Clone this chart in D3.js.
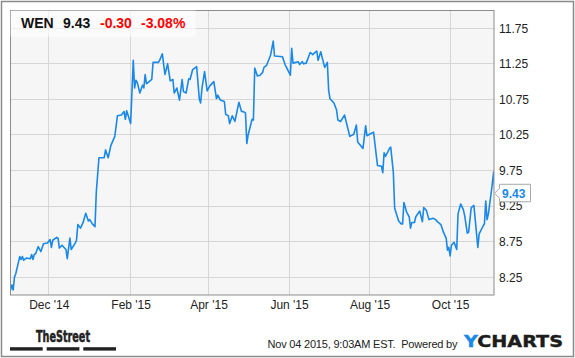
<!DOCTYPE html>
<html><head><meta charset="utf-8">
<script src="https://cdn.jsdelivr.net/npm/d3@7/dist/d3.min.js"></script>
<style>
html,body{margin:0;padding:0;background:#fff;}
svg{display:block;font-family:"Liberation Sans",Arial,sans-serif;}
</style></head>
<body>
<svg id="chart" width="575" height="358"></svg>
<script>
const dates = [
"2014-11-02","2014-11-03","2014-11-04","2014-11-05","2014-11-06","2014-11-09","2014-11-10","2014-11-11","2014-11-12","2014-11-14",
"2014-11-17","2014-11-18","2014-11-19","2014-11-20","2014-11-21","2014-11-23","2014-11-25","2014-11-27","2014-11-30","2014-12-02",
"2014-12-03","2014-12-04","2014-12-07","2014-12-08","2014-12-09","2014-12-11","2014-12-14","2014-12-15","2014-12-17","2014-12-18",
"2014-12-21","2014-12-22","2014-12-23","2014-12-25","2014-12-27","2014-12-29","2014-12-31","2015-01-01","2015-01-03","2015-01-05",
"2015-01-06","2015-01-08","2015-01-12","2015-01-13","2015-01-15","2015-01-17","2015-01-20","2015-01-22","2015-01-25","2015-01-27",
"2015-01-28","2015-01-29","2015-02-01","2015-02-03","2015-02-04","2015-02-05","2015-02-06","2015-02-08","2015-02-10","2015-02-11",
"2015-02-12","2015-02-13","2015-02-15","2015-02-17","2015-02-18","2015-02-22","2015-02-23","2015-02-25","2015-02-27","2015-03-01",
"2015-03-03","2015-03-05","2015-03-06","2015-03-08","2015-03-10","2015-03-12","2015-03-13","2015-03-15","2015-03-17","2015-03-18",
"2015-03-20","2015-03-23","2015-03-25","2015-03-26","2015-03-27","2015-03-29","2015-03-31","2015-04-02","2015-04-05","2015-04-07",
"2015-04-08","2015-04-10","2015-04-13","2015-04-14","2015-04-16","2015-04-17","2015-04-19","2015-04-21","2015-04-24","2015-04-26",
"2015-04-27","2015-04-29","2015-04-30","2015-05-01","2015-05-04","2015-05-05","2015-05-06","2015-05-08","2015-05-10","2015-05-12",
"2015-05-13","2015-05-15","2015-05-18","2015-05-20","2015-05-21","2015-05-27","2015-05-29","2015-06-02","2015-06-03","2015-06-04",
"2015-06-08","2015-06-09","2015-06-11","2015-06-12","2015-06-14","2015-06-17","2015-06-19","2015-06-20","2015-06-22","2015-06-23",
"2015-06-25","2015-06-27","2015-06-28","2015-06-30","2015-07-01","2015-07-02","2015-07-05","2015-07-07","2015-07-08","2015-07-10",
"2015-07-13","2015-07-15","2015-07-17","2015-07-20","2015-07-22","2015-07-23","2015-07-27","2015-07-29","2015-07-30","2015-08-01",
"2015-08-04","2015-08-07","2015-08-10","2015-08-11","2015-08-12","2015-08-13","2015-08-15","2015-08-16","2015-08-17","2015-08-19",
"2015-08-20","2015-08-23","2015-08-25","2015-08-26","2015-08-27","2015-08-29","2015-08-31","2015-09-01","2015-09-02","2015-09-04",
"2015-09-05","2015-09-08","2015-09-10","2015-09-11","2015-09-13","2015-09-15","2015-09-18","2015-09-20","2015-09-22","2015-09-24",
"2015-09-26","2015-09-28","2015-09-29","2015-09-30","2015-10-01","2015-10-02","2015-10-04","2015-10-06","2015-10-07","2015-10-09",
"2015-10-11","2015-10-12","2015-10-14","2015-10-15","2015-10-17","2015-10-19","2015-10-22","2015-10-23","2015-10-26","2015-10-27",
"2015-10-28","2015-10-29","2015-10-30","2015-11-01","2015-11-03","2015-11-04"
];
const prices = [
8.07,8.14,8.07,8.25,8.30,8.54,8.50,8.54,8.49,8.52,
8.51,8.57,8.50,8.57,8.58,8.68,8.61,8.72,8.73,8.78,
8.67,8.77,8.81,8.80,8.66,8.70,8.64,8.51,8.80,8.64,
8.73,8.77,8.99,8.94,9.02,9.15,9.04,9.06,9.00,8.96,
9.45,9.93,9.93,10.04,9.93,10.10,10.23,10.52,10.53,10.58,
10.47,10.59,10.41,11.30,10.91,11.02,10.99,10.84,10.95,10.91,
11.10,10.97,11.00,11.03,11.27,11.27,11.30,11.39,11.10,11.25,
11.01,11.03,10.84,10.91,10.74,11.03,10.86,10.84,11.04,11.03,
11.17,11.21,10.76,10.70,10.90,11.14,10.87,10.94,11.00,10.76,
10.81,10.74,10.72,10.54,10.52,10.41,10.52,10.44,10.71,10.58,
10.58,10.56,10.13,10.25,10.47,10.46,11.19,11.08,11.09,11.13,
11.20,11.23,11.37,11.57,11.36,11.35,11.24,11.09,11.47,11.26,
11.28,11.24,11.28,11.25,11.26,11.41,11.38,11.40,11.43,11.30,
11.42,11.27,11.20,11.27,10.88,10.76,10.70,10.60,10.46,10.44,
10.53,10.38,10.23,10.26,10.39,10.15,10.06,10.38,10.24,10.26,
10.29,9.82,9.81,9.72,10.00,9.95,10.02,10.06,10.08,9.72,
9.22,9.04,9.00,9.00,9.30,9.17,9.10,8.94,9.02,9.02,
9.10,9.18,9.03,9.23,9.19,9.06,9.08,9.06,9.02,8.99,
8.88,8.80,8.63,8.67,8.55,8.70,8.74,8.64,9.14,9.28,
9.20,9.12,8.87,8.88,9.23,9.26,8.67,8.86,8.97,9.00,
9.32,9.06,9.14,9.42,9.73,9.43
];
const yTicks = [8.25, 8.75, 9.25, 9.75, 10.25, 10.75, 11.25, 11.75];
const xTicks = ["2014-12-01","2015-02-01","2015-04-01","2015-06-01","2015-08-01","2015-10-01"];
const xDomain = ["2014-11-02","2015-11-04"];
const yDomain = [8.0, 12.0];
const ticker = "WEN";
const lastPrice = "9.43";
const change = "-0.30";
const changePct = "-3.08%";
const stampText = "Nov 04 2015, 9:03AM EST.  Powered by";

const parse = d3.timeParse("%Y-%m-%d");
const data = dates.map((d, i) => ({date: parse(d), value: prices[i]}));

const svg = d3.select("#chart");
const L = 10.5, T = 10.5, R = 494, B = 295;
const blue = "#1a88e6";

svg.append("rect").attr("x",1.5).attr("y",1.5).attr("width",572).attr("height",355)
  .attr("fill","#fff").attr("stroke","#8a8a8a").attr("stroke-width",1.5);

const x = d3.scaleTime().domain(xDomain.map(parse)).range([L, 495]);
const y = d3.scaleLinear().domain(yDomain).range([B, T]);

svg.append("rect").attr("x",L).attr("y",T).attr("width",R-L).attr("height",B-T).attr("fill","#f6f6f6");

// gridlines
const grid = svg.append("g").attr("stroke","#d6d6d6").attr("stroke-width",1);
grid.selectAll("line.h").data(yTicks).join("line").attr("class","h")
  .attr("x1",L).attr("x2",R)
  .attr("y1",d=>Math.floor(y(d))+0.5).attr("y2",d=>Math.floor(y(d))+0.5);
grid.selectAll("line.v").data(xTicks.map(parse)).join("line").attr("class","v")
  .attr("y1",T).attr("y2",B)
  .attr("x1",d=>Math.floor(x(d))+0.5).attr("x2",d=>Math.floor(x(d))+0.5);

svg.append("clipPath").attr("id","clip").append("rect")
  .attr("x",L).attr("y",T).attr("width",R-L).attr("height",B-T);

const line = d3.line().x(d=>x(d.date)).y(d=>y(d.value));
svg.append("path").datum(data).attr("clip-path","url(#clip)")
  .attr("d",line).attr("fill","none").attr("stroke",blue)
  .attr("stroke-width",1.6).attr("stroke-linejoin","round");

svg.append("rect").attr("x",L).attr("y",T).attr("width",R-L).attr("height",B-T)
  .attr("fill","none").attr("stroke","#8c8c8c").attr("stroke-width",1);

// axes
const yAxis = svg.append("g").attr("transform",`translate(${R},0)`)
  .call(d3.axisRight(y).tickValues(yTicks).tickSize(0).tickPadding(5).tickFormat(d3.format(".2f")));
yAxis.select(".domain").remove();
yAxis.selectAll("text").attr("font-size",12).attr("fill","#222")
  .attr("font-family","'Liberation Sans',Arial,sans-serif");

const xAxis = svg.append("g").attr("transform",`translate(0,${B})`)
  .call(d3.axisBottom(x).tickValues(xTicks.map(parse)).tickSize(0).tickPadding(5).tickFormat(d3.timeFormat("%b '%y")));
xAxis.select(".domain").remove();
xAxis.selectAll("text").attr("font-size",12).attr("fill","#222")
  .attr("font-family","'Liberation Sans',Arial,sans-serif");

// header box
svg.append("rect").attr("x",L).attr("y",T).attr("width",185).attr("height",26)
  .attr("fill","rgba(255,255,255,0.6)");
const hdr = svg.append("text").attr("y",28).attr("font-size",14).attr("font-weight","bold");
hdr.append("tspan").attr("x",21).attr("fill","#111").text(ticker);
hdr.append("tspan").attr("x",63).attr("fill","#111").text(lastPrice);
hdr.append("tspan").attr("x",100).attr("fill","#f00").text(change);
hdr.append("tspan").attr("x",141).attr("fill","#f00").text(changePct);

// last price tag
const ly = y(prices[prices.length-1]);
svg.append("path")
  .attr("d",`M499.5,${ly-9} L530.5,${ly-9} L530.5,${ly+8.5} L499.5,${ly+8.5} L499.5,${ly+5} L494.5,${ly} L499.5,${ly-5} Z`)
  .attr("fill","#fff").attr("stroke","#a8a8a8").attr("stroke-width",1);
svg.append("text").attr("x",502).attr("y",ly+5).attr("font-size",12).attr("font-weight","bold")
  .attr("fill",blue).text(lastPrice);

// footer
svg.append("text").attr("x",36).attr("y",341.5).attr("font-size",16).attr("font-weight","bold")
  .attr("font-family","'Liberation Sans Narrow','DejaVu Sans Condensed',sans-serif")
  .attr("stroke","#222").attr("stroke-width",0.5)
  .attr("textLength",54).attr("lengthAdjust","spacingAndGlyphs").attr("fill","#222").text("TheStreet");
svg.selectAll("rect.bar").data([10, 46.7, 83.3]).join("rect").attr("class","bar")
  .attr("x",d=>d).attr("y",347.2).attr("width",32.7).attr("height",3.4).attr("fill","#222");

svg.append("text").attr("x",267.5).attr("y",347.5).attr("font-size",11).attr("fill","#222")
  .attr("textLength",190).attr("lengthAdjust","spacing")
  .style("white-space","pre").text(stampText);
const yc = svg.append("text").attr("x",464).attr("y",347.3).attr("font-size",16.5).attr("font-weight","bold")
  .attr("font-family","'DejaVu Sans',sans-serif")
  .attr("stroke-width",0.4)
  .attr("textLength",99).attr("lengthAdjust","spacingAndGlyphs");
yc.append("tspan").attr("fill",blue).attr("stroke",blue).text("Y");
yc.append("tspan").attr("fill","#1c1c1c").attr("stroke","#1c1c1c").text("CHARTS");
</script>
</body></html>
